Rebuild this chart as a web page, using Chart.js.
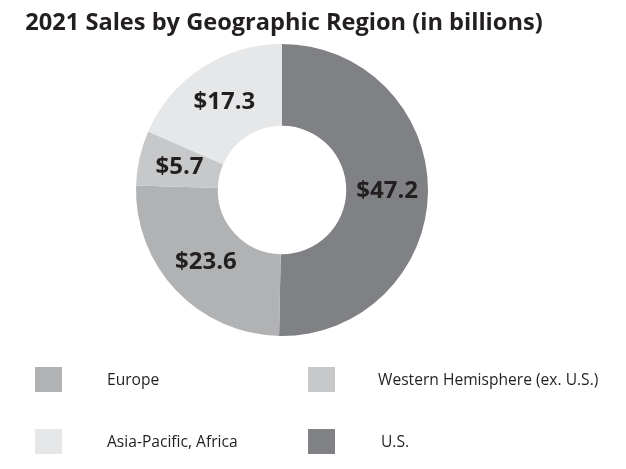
<!DOCTYPE html>
<html lang="en">
  <head>
    <meta charset="UTF-8" />
    <title>2021 Sales by Geographic Region</title>
    <script src="https://cdn.jsdelivr.net/npm/chart.js"></script>
    <style>
      html, body { margin: 0; padding: 0; background: #fff; }
      .wrap { position: relative; width: 626px; height: 469px; overflow: hidden; font-family: "Open Sans", sans-serif; color: #231f20; }
      .title { position: absolute; left: 0; width: 568px; top: 5px; text-align: center; font-weight: 700; font-size: 23.6px; white-space: nowrap; }
      .chartBox { position: absolute; left: 0; top: 0; width: 626px; height: 469px; }
      .item { position: absolute; font-size: 15.6px; white-space: nowrap; }
      .item .box { position: absolute; left: 0; top: 0; width: 27px; height: 25px; }
      .item .txt { position: absolute; top: 1px; white-space: nowrap; }
    </style>
  </head>
  <body>
    <div class="wrap">
      <div class="chartBox"><canvas id="myChart" width="626" height="469"></canvas></div>
      <div class="title">2021 Sales by Geographic Region (in billions)</div>
      <div id="legend"></div>
    </div>
    <script>
      // data in drawing order (clockwise from 12 o'clock)
      const regions = ["U.S.", "Europe", "Western Hemisphere (ex. U.S.)", "Asia-Pacific, Africa"];
      const sales = [47.2, 23.6, 5.7, 17.3];
      const valueLabels = ["$47.2", "$23.6", "$5.7", "$17.3"];
      const colors = ["#808184", "#b1b2b4", "#c7c8ca", "#e6e7e8"];
      // legend order (2 columns)
      const legendOrder = ["Europe", "Western Hemisphere (ex. U.S.)", "Asia-Pacific, Africa", "U.S."];

      const sliceLabels = {
        id: "sliceLabels",
        afterDatasetsDraw(chart) {
          const ctx = chart.ctx;
          const meta = chart.getDatasetMeta(0);
          ctx.save();
          ctx.font = "bold 24px 'Open Sans', sans-serif";
          ctx.fillStyle = "#231f20";
          ctx.textAlign = "center";
          ctx.textBaseline = "middle";
          meta.data.forEach((arc, i) => {
            const p = arc.tooltipPosition();
            ctx.fillText(valueLabels[i], p.x, p.y);
          });
          ctx.restore();
        }
      };

      new Chart(document.getElementById("myChart"), {
        type: "doughnut",
        data: {
          labels: regions,
          datasets: [{
            data: sales,
            backgroundColor: colors,
            borderWidth: 0
          }]
        },
        options: {
          responsive: false,
          animation: false,
          cutout: "44%",
          layout: { padding: { left: 136, top: 44, right: 198, bottom: 133 } },
          plugins: {
            legend: { display: false },
            tooltip: { enabled: false }
          }
        },
        plugins: [sliceLabels]
      });

      // html legend
      const legendPos = [[35, 367, 72], [308, 367, 70], [35, 429, 72], [308, 429, 73]];
      const legendEl = document.getElementById("legend");
      legendOrder.forEach((name, k) => {
        const i = regions.indexOf(name);
        const [x, y, dx] = legendPos[k];
        const d = document.createElement("div");
        d.className = "item";
        d.style.left = x + "px";
        d.style.top = y + "px";
        d.innerHTML = '<span class="box" style="background:' + colors[i] + '"></span>' +
          '<span class="txt" style="left:' + dx + 'px">' + name + '</span>';
        legendEl.appendChild(d);
      });
    </script>
  </body>
</html>
